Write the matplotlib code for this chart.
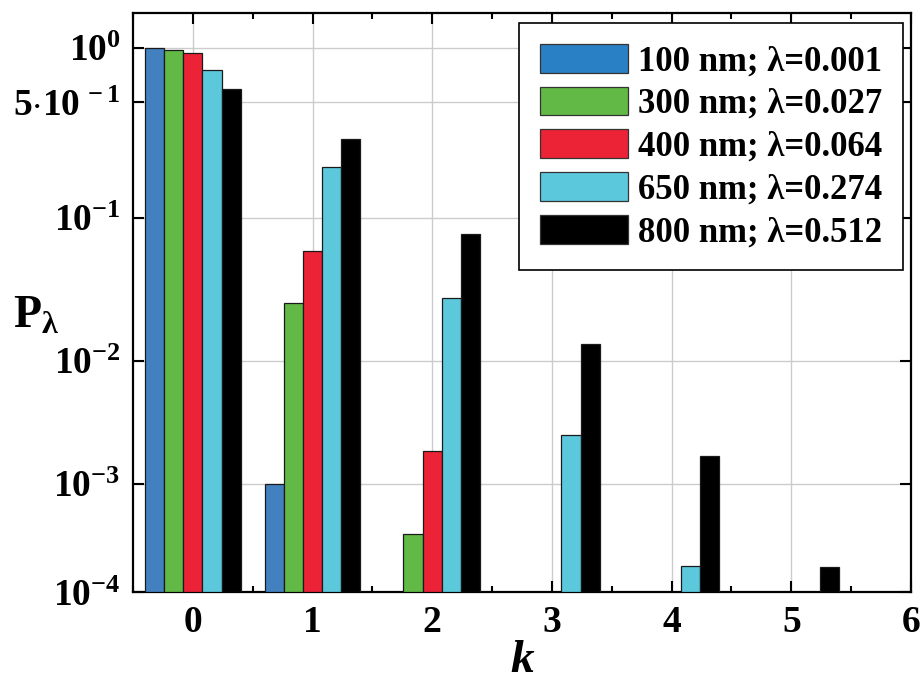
import numpy as np
import matplotlib
matplotlib.use("Agg")
import matplotlib.pyplot as plt
from matplotlib.ticker import MultipleLocator, NullLocator

plt.rcParams["font.family"] = ["Liberation Serif", "DejaVu Serif"]
plt.rcParams["font.weight"] = "bold"
plt.rcParams["mathtext.fontset"] = "custom"
plt.rcParams["mathtext.rm"] = "Liberation Serif:bold"
plt.rcParams["mathtext.bf"] = "Liberation Serif:bold"
plt.rcParams["mathtext.it"] = "Liberation Serif:bold:italic"

# photon-number probabilities P(k) for each wavelength
k_values = [0, 1, 2, 3, 4, 5]
labels = ["100 nm; λ=0.001", "300 nm; λ=0.027", "400 nm; λ=0.064",
          "650 nm; λ=0.274", "800 nm; λ=0.512"]
p_100 = [0.999, 0.001, np.nan, np.nan, np.nan, np.nan]
p_300 = [0.973, 0.0263, 0.00036, np.nan, np.nan, np.nan]
p_400 = [0.938, 0.060, 0.0019, np.nan, np.nan, np.nan]
p_650 = [0.760, 0.208, 0.0285, 0.0026, 0.000179, np.nan]
p_800 = [0.593, 0.307, 0.0786, 0.0134, 0.00172, 0.000176]
colors = ["#4380c0", "#62b946", "#ec2236", "#5cc8dc", "#000000"]
legend_colors = ["#2a80c4", "#62b946", "#ec2236", "#5cc8dc", "#000000"]

ytick_vals = [1, 0.5, 0.1, 0.01, 0.001, 0.0001]
ytick_labels = ["$10^{0}$", "$5{\\cdot}10^{\\,-1}$", "$10^{-1}$", "$10^{-2}$",
                "$10^{-3}$", "$10^{-4}$"]

# stretched log axis: decades shrink towards small probabilities
C = 4.8


def fwd(v):
    v = np.clip(v, 1e-12, None)
    return -np.log(C - np.log10(v))


def inv(t):
    return 10 ** (C - np.exp(-t))


fig = plt.figure(figsize=(9.21, 6.84), dpi=100)
ax = fig.add_axes([0.1444, 0.134, 0.8447, 0.847])
ax.set_yscale("function", functions=(fwd, inv))

series = [p_100, p_300, p_400, p_650, p_800]
width = 0.16
ybottom = 1e-4
for i, (vals, col) in enumerate(zip(series, colors)):
    xs = np.array(k_values) + (i - 2) * width
    vals = np.array(vals, dtype=float)
    ok = ~np.isnan(vals)
    ax.bar(xs[ok], vals[ok] - ybottom, bottom=ybottom, width=width,
           color=col, edgecolor="#1a1a1a", linewidth=0.9, zorder=3)

ax.set_xlim(-0.5, 6)
ax.set_ylim(1e-4, 1.52)
ax.set_xticks(k_values + [6])
ax.xaxis.set_minor_locator(MultipleLocator(0.5))
ax.set_yticks(ytick_vals)
ax.set_yticklabels(ytick_labels)
ax.yaxis.set_minor_locator(NullLocator())

ax.grid(True, which="major", color="#cccccc", linewidth=1.0, zorder=0)
ax.set_axisbelow(True)

ax.tick_params(axis="both", which="both", direction="in", top=True, right=True,
               labelsize=27, width=1.5)
ax.tick_params(axis="both", which="major", length=8)
ax.tick_params(axis="both", which="minor", length=4.5)
ax.tick_params(axis="x", pad=9)
ax.tick_params(axis="y", pad=9)
for sp in ax.spines.values():
    sp.set_linewidth(1.6)

ax.set_xlabel("k", fontsize=34, fontstyle="italic", fontweight="bold", labelpad=0)
ax.set_ylabel("$\\mathrm{P}_{\\mathrm{λ}}$", fontsize=33, rotation=0, labelpad=0)
ax.yaxis.set_label_coords(-0.125, 0.44)

handles = [plt.Rectangle((0, 0), 1, 1, facecolor=c, edgecolor="#333333", linewidth=0.9)
           for c in legend_colors]
leg = ax.legend(handles, labels, loc="upper right", fontsize=25,
                bbox_to_anchor=(903 / 921, 1 - 23 / 684), bbox_transform=fig.transFigure,
                frameon=True, fancybox=False, framealpha=1, edgecolor="black",
                handlelength=2.55, handleheight=0.9, labelspacing=0.24,
                handletextpad=0.28, borderpad=0.6, borderaxespad=0)
leg.get_frame().set_linewidth(1.2)

fig.savefig("out.png", dpi=100)
